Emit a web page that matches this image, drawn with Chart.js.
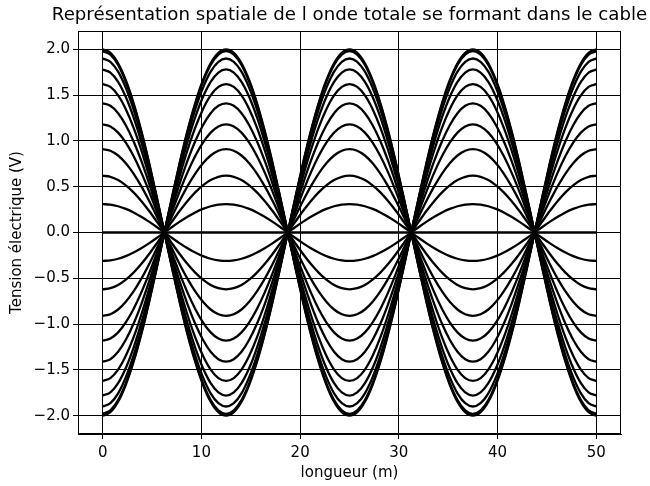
<!DOCTYPE html>
<html>
<head>
<meta charset="utf-8">
<script src="https://cdn.jsdelivr.net/npm/chart.js@4/dist/chart.umd.min.js"></script>
<style>
  body { margin: 0; background: #fff; }
  #box { width: 650px; height: 486px; }
</style>
</head>
<body>
<div id="box"><canvas id="onde"></canvas></div>
<script>
// positions along the cable (m)
var positions = [0, 0.78125, 1.5625, 2.34375, 3.125, 3.90625, 4.6875, 5.46875, 6.25,
  7.03125, 7.8125, 8.59375, 9.375, 10.15625, 10.9375, 11.71875, 12.5,
  13.28125, 14.0625, 14.84375, 15.625, 16.40625, 17.1875, 17.96875, 18.75,
  19.53125, 20.3125, 21.09375, 21.875, 22.65625, 23.4375, 24.21875, 25,
  25.78125, 26.5625, 27.34375, 28.125, 28.90625, 29.6875, 30.46875, 31.25,
  32.03125, 32.8125, 33.59375, 34.375, 35.15625, 35.9375, 36.71875, 37.5,
  38.28125, 39.0625, 39.84375, 40.625, 41.40625, 42.1875, 42.96875, 43.75,
  44.53125, 45.3125, 46.09375, 46.875, 47.65625, 48.4375, 49.21875, 50];
// normalised shape of the standing wave at those positions
var profil = [1, 0.981, 0.924, 0.831, 0.707, 0.556, 0.383, 0.195, 0,
  -0.195, -0.383, -0.556, -0.707, -0.831, -0.924, -0.981, -1,
  -0.981, -0.924, -0.831, -0.707, -0.556, -0.383, -0.195, 0,
  0.195, 0.383, 0.556, 0.707, 0.831, 0.924, 0.981, 1,
  0.981, 0.924, 0.831, 0.707, 0.556, 0.383, 0.195, 0,
  -0.195, -0.383, -0.556, -0.707, -0.831, -0.924, -0.981, -1,
  -0.981, -0.924, -0.831, -0.707, -0.556, -0.383, -0.195, 0,
  0.195, 0.383, 0.556, 0.707, 0.831, 0.924, 0.981, 1];
// amplitude (V) of each snapshot, read at x = 0
var amplitudes = [2.0, 1.98, 1.9, 1.78, 1.62, 1.41, 1.18, 0.91, 0.62, 0.31, 0,
  -0.31, -0.62, -0.91, -1.18, -1.41, -1.62, -1.78, -1.9, -1.98, -2.0];
var xTicks = [0, 10, 20, 30, 40, 50];
var yTicks = [-2.0, -1.5, -1.0, -0.5, 0.0, 0.5, 1.0, 1.5, 2.0];

var titre = "Représentation spatiale de l onde totale se formant dans le cable";
var police = "'DejaVu Sans', sans-serif";

var datasets = [];
for (var k = 0; k < amplitudes.length; k++) {
  var pts = [];
  for (var i = 0; i < positions.length; i++) {
    pts.push({ x: positions[i], y: amplitudes[k] * profil[i] });
  }
  datasets.push({
    data: pts,
    borderColor: '#000',
    borderWidth: 2.3,
    pointRadius: 0,
    cubicInterpolationMode: 'monotone',
    fill: false
  });
}

// frame around the axes + title centred on the plot area
var cadre = {
  id: 'cadre',
  afterDraw: function (chart) {
    var a = chart.chartArea, ctx = chart.ctx;
    ctx.save();
    ctx.strokeStyle = '#000';
    ctx.lineWidth = 1;
    ctx.strokeRect(a.left + 0.5, a.top + 0.5, a.right - a.left - 1, a.bottom - a.top - 1);
    ctx.fillStyle = '#000';
    ctx.font = '18.2px ' + police;
    ctx.textAlign = 'center';
    ctx.textBaseline = 'middle';
    ctx.fillText(titre, (a.left + a.right) / 2, 15);
    ctx.restore();
  }
};

function fmt(v) {
  var s = Number(v).toFixed(1);
  return s.replace('-', '\u2212');
}

new Chart(document.getElementById('onde'), {
  type: 'line',
  data: { datasets: datasets },
  plugins: [cadre],
  options: {
    responsive: true,
    maintainAspectRatio: false,
    animation: false,
    layout: { padding: { left: 0, right: 29, top: 31, bottom: 0 } },
    plugins: { legend: { display: false }, tooltip: { enabled: false } },
    scales: {
      x: {
        type: 'linear',
        min: -2.5,
        max: 52.5,
        afterBuildTicks: function (s) { s.ticks = xTicks.map(function (v) { return { value: v }; }); },
        afterFit: function (s) { s.height = 52; },
        grid: { color: '#000', lineWidth: 1, tickLength: 5, tickColor: '#000' },
        border: { color: '#000', width: 1 },
        ticks: { color: '#000', font: { family: police, size: 15 }, padding: 5, maxRotation: 0 },
        title: { display: true, text: 'longueur (m)', color: '#000', font: { family: police, size: 15 }, padding: { top: 0, bottom: 4 } }
      },
      y: {
        min: -2.2,
        max: 2.2,
        afterBuildTicks: function (s) { s.ticks = yTicks.map(function (v) { return { value: v }; }); },
        afterFit: function (s) { s.width = 78; },
        grid: { color: '#000', lineWidth: 1, tickLength: 5, tickColor: '#000' },
        border: { color: '#000', width: 1 },
        ticks: { color: '#000', font: { family: police, size: 15 }, padding: 3, callback: fmt },
        title: { display: true, text: 'Tension électrique (V)', color: '#000', font: { family: police, size: 15 }, padding: { top: 8, bottom: 0 } }
      }
    }
  }
});
</script>
</body>
</html>
